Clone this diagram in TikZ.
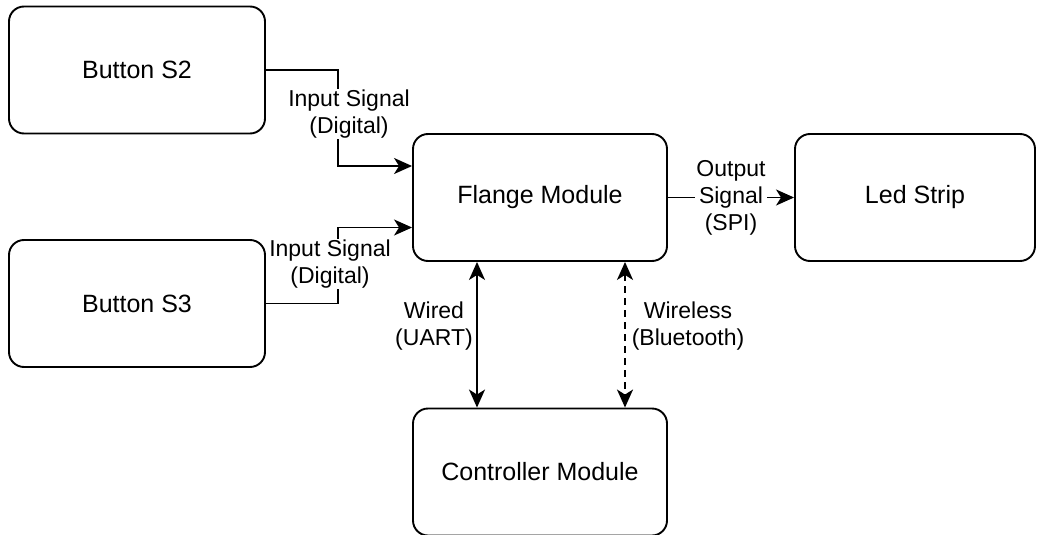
\documentclass[tikz,border=0pt]{standalone}
\usepackage{fontspec}
\setmainfont{Liberation Sans}
\usetikzlibrary{arrows.meta}
\tikzset{
  block/.style={draw, line width=1.9pt, rounded corners=15pt, minimum width=#1, minimum height=127pt, inner sep=0pt, font=\fontsize{25}{29}\selectfont},
  block/.default=254pt,
  tip/.style={Stealth[length=18pt,width=16pt,inset=5pt]},
  link/.style={line width=1.9pt, -{Stealth[length=18pt,width=16pt,inset=5pt]}},
  biarrow/.style={line width=1.9pt, {Stealth[length=18pt,width=16pt,inset=5pt]}-{Stealth[length=18pt,width=16pt,inset=5pt]}},
  tag/.style={fill=white, inner sep=1pt, align=center, font=\fontsize{23}{27}\selectfont}
}
\begin{document}
\begin{tikzpicture}[x=1pt, y=-1pt]
  \useasboundingbox (0,0) rectangle (1041,535);
  % blocks
  \node[block=256pt] (s2) at (137,70) {Button S2};
  \node[block=256pt] (s3) at (137,303.5) {Button S3};
  \node[block] (flange) at (540,197.5) {Flange Module};
  \node[block=240pt] (led) at (915,197.5) {Led Strip};
  \node[block] (ctrl) at (540,472) {Controller Module};

  % button inputs
  \draw[link] (s2.east) -| ([xshift=-74pt,yshift=31.5pt]flange.west) -- ([yshift=31.5pt]flange.west);
  \draw[link] (s3.east) -| ([xshift=-74pt,yshift=-30pt]flange.west) -- ([yshift=-30pt]flange.west);
  \node[tag] (l2) at (349,114) {Input Signal\\(Digital)};
  \node[tag] (l3) at (330,264) {Input Signal\\(Digital)};

  % output to the strip
  \draw[link] (flange.east) -- (led.west);
  \node[tag] (lo) at (731,197.5) {Output\\Signal\\(SPI)};

  % flange <-> controller
  \draw[biarrow] ([xshift=-63pt]flange.south) -- ([xshift=-63pt]ctrl.north);
  \draw[biarrow, dash pattern=on 7pt off 5pt] ([xshift=85pt]flange.south) -- ([xshift=85pt]ctrl.north);
  \node[tag, fill=none] (lw) at (434,326) {Wired\\(UART)};
  \node[tag, fill=none] (lb) at (688,326) {Wireless\\(Bluetooth)};
\end{tikzpicture}
\end{document}
